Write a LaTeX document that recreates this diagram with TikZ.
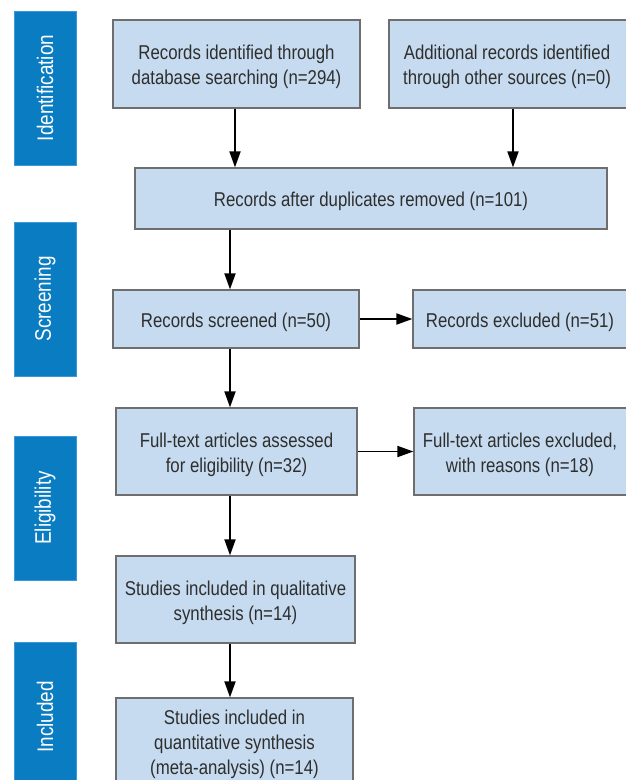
\documentclass[tikz,border=0pt]{standalone}
\usepackage{fontspec}
\setmainfont{Liberation Sans}[FakeStretch=0.84]
\usetikzlibrary{arrows.meta,calc}
\definecolor{boxfill}{HTML}{C6DBEF}
\definecolor{boxline}{HTML}{6E6E6E}
\definecolor{barfill}{HTML}{0A7CC1}
\definecolor{barline}{HTML}{3A9AD9}
\definecolor{txt}{HTML}{2E2E2E}
\newcommand{\topgap}{\rule{0pt}{20.5pt}}
\begin{document}
\begin{tikzpicture}[x=1pt,y=-1pt,
  box/.style={draw=boxline,fill=boxfill,line width=1.2pt,align=center,text=txt,
    font=\fontsize{20}{25}\selectfont,inner sep=0pt},
  bar/.style={draw=barline,fill=barfill,line width=1pt,inner sep=0pt,minimum width=62pt},
  bartext/.style={rotate=90,text=white,font=\fontsize{22.5}{24}\selectfont},
  arr/.style={-{Triangle[width=11pt,length=16pt]},line width=1.8pt,black}]
\useasboundingbox (0,0) rectangle (625,780);
% side bars
\node[bar,minimum height=154pt] (s1) at (45,88) {};
\node[bartext] (t1) at (s1.center) {Identification};
\node[bar,minimum height=154pt] (s2) at (45,299) {};
\node[bartext] (t2) at (s2.center) {Screening};
\node[bar,minimum height=144pt] (s3) at (45,508) {};
\node[bartext] (t3) at (s3.center) {Eligibility};
\node[bar,minimum height=150pt] (s4) at (45,717) {};
\node[bartext] (t4) at (s4.center) {Included};
% boxes
\node[box,minimum width=247pt,minimum height=88pt] (b1) at (236.5,64) {\topgap Records identified through\\database searching (n=294)};
\node[box,minimum width=248pt,minimum height=88pt] (b2) at (513,64) {\topgap\hspace*{-12pt}Additional records identified\\\hspace*{-12pt}through other sources (n=0)};
\node[box,minimum width=472pt,minimum height=61pt] (b3) at (371,198.5) {\topgap Records after duplicates removed (n=101)};
\node[box,minimum width=246pt,minimum height=58pt] (b4) at (236,319) {\topgap Records screened (n=50)};
\node[box,minimum width=224pt,minimum height=58pt] (b5) at (525,319) {\topgap\hspace*{-10pt}Records excluded (n=51)};
\node[box,minimum width=223pt,minimum height=87pt] (b7) at (525.5,451.5) {\topgap\hspace*{-11pt}Full-text articles excluded,\\\hspace*{-11pt}with reasons (n=18)};
\node[box,minimum width=241pt,minimum height=87pt] (b6) at (236.5,451.5) {\topgap Full-text articles assessed\\for eligibility (n=32)};
\node[box,minimum width=239pt,minimum height=87pt] (b8) at (235.5,599.5) {\topgap Studies included in qualitative\\synthesis (n=14)};
\node[box,minimum width=237pt,minimum height=86pt] (b9) at (234.5,741) {\topgap Studies included in\\quantitative synthesis\\(meta-analysis) (n=14)};
% arrows
\coordinate (xa) at (235,0);
\coordinate (xc) at (230,0);
\draw[arr] (b1.south -| xa) -- (b3.north -| xa);
\draw[arr] (b2.south) -- (b3.north -| b2.south);
\draw[arr] (b3.south -| xc) -- (b4.north -| xc);
\draw[arr] (b4.east) -- (b5.west);
\draw[arr] (b4.south -| xc) -- (b6.north -| xc);
\draw[arr] (b6.east) -- (b7.west);
\draw[arr] (b6.south -| xc) -- (b8.north -| xc);
\draw[arr] (b8.south -| xc) -- (b9.north -| xc);
\end{tikzpicture}
\end{document}
